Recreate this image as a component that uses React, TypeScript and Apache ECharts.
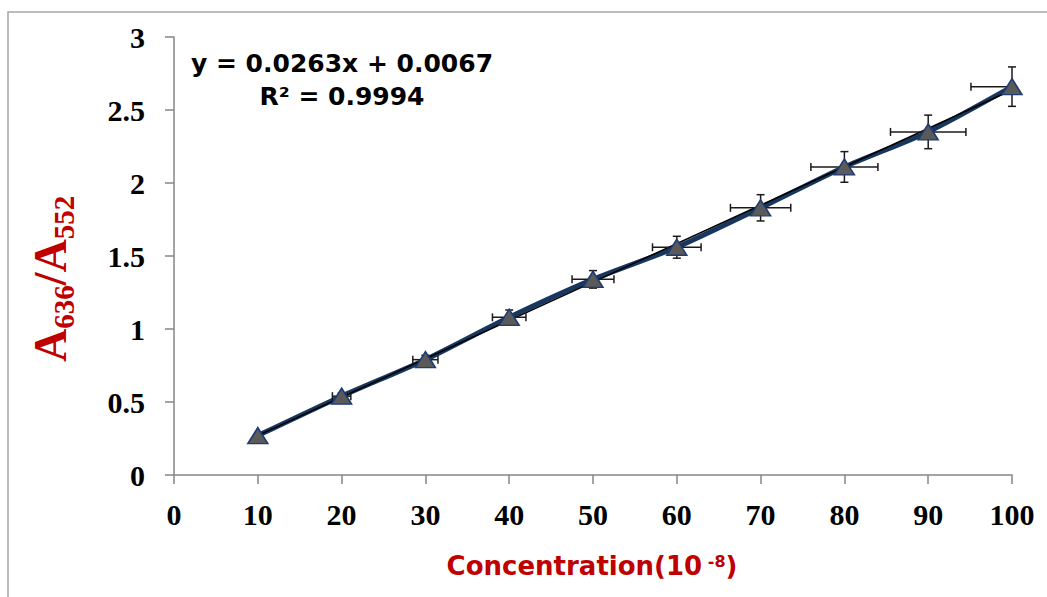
import React, { useEffect, useRef } from "react";
import * as echarts from "echarts";

// ---- data ----
const xValues = [10, 20, 30, 40, 50, 60, 70, 80, 90, 100];
const yValues = [0.27, 0.54, 0.79, 1.08, 1.34, 1.56, 1.83, 2.11, 2.35, 2.66];
const xErrors = [0, 1.1, 1.5, 2.0, 2.5, 2.9, 3.6, 4.0, 4.5, 4.9];
const yErrors = [0, 0.02, 0.03, 0.05, 0.06, 0.075, 0.09, 0.105, 0.115, 0.135];
const xAxisMin = 0;
const xAxisMax = 100;
const xAxisInterval = 10;
const yAxisMin = 0;
const yAxisMax = 3;
const yAxisInterval = 0.5;
const trendSlope = 0.0263;
const trendIntercept = 0.0067;
const equationText = "y = 0.0263x + 0.0067";
const r2Text = "R\u00B2 = 0.9994";
const xTitleMain = "Concentration(10";
const xTitleSup = "-8";
const xTitleEnd = ")";
const yTitleParts = ["A", "636", "/A", "552"];

const RED = "#C00000";
const AXIS = "#868686";
const SERIF = "Liberation Serif";
const SANS = "DejaVu Sans";

export default function App() {
  const ref = useRef<HTMLDivElement>(null);

  useEffect(() => {
    if (!ref.current) return;
    const chart = echarts.init(ref.current, null, { renderer: "svg" });

    const points = xValues.map((x, i) => [x, yValues[i]]);
    const errData = xValues.map((x, i) => [x, yValues[i], xErrors[i], yErrors[i]]);
    const tx0 = xValues[0];
    const tx1 = xValues[xValues.length - 1];
    const trend = [
      [tx0, trendSlope * tx0 + trendIntercept],
      [tx1, trendSlope * tx1 + trendIntercept],
    ];

    const axisLabel = {
      color: "#000",
      fontFamily: SERIF,
      fontWeight: "bold" as const,
      fontSize: 30,
    };

    // y-axis title: A636/A552 with subscripts, rotated
    const aSize = 46;
    const subSize = 29;
    const aW = 0.722 * aSize;
    const slashW = 0.278 * aSize;
    const subW = 0.5 * subSize * 3;
    const offsets = [0, aW, aW + subW, aW + subW + slashW + aW - aW];
    const yTitleChildren = yTitleParts.map((t, i) => {
      const isSub = i % 2 === 1;
      return {
        type: "text",
        x: offsets[i],
        y: isSub ? 64 : 50,
        style: {
          text: t,
          fontFamily: SERIF,
          fontWeight: "bold",
          fontSize: isSub ? subSize : aSize,
          fill: RED,
          align: "left",
          textAlign: "left",
          verticalAlign: "middle",
          textVerticalAlign: "middle",
        },
      };
    });
    // fix last offset: after "/A"
    yTitleChildren[3].x = aW + subW + slashW + aW;

    chart.setOption({
      animation: false,
      backgroundColor: "#fff",
      grid: { left: 174, right: 35, top: 37, bottom: 122, containLabel: false },
      xAxis: {
        type: "value",
        min: xAxisMin,
        max: xAxisMax,
        interval: xAxisInterval,
        axisLine: { show: true, lineStyle: { color: AXIS, width: 1.5 } },
        axisTick: { show: true, length: 9, lineStyle: { color: AXIS, width: 1.5 } },
        splitLine: { show: false },
        axisLabel: { ...axisLabel, margin: 24 },
      },
      yAxis: {
        type: "value",
        min: yAxisMin,
        max: yAxisMax,
        interval: yAxisInterval,
        axisLine: { show: true, lineStyle: { color: AXIS, width: 1.5 } },
        axisTick: { show: true, length: 9, lineStyle: { color: AXIS, width: 1.5 } },
        splitLine: { show: false },
        axisLabel: { ...axisLabel, margin: 29 },
      },
      series: [
        {
          type: "line",
          data: points,
          smooth: 0.25,
          showSymbol: false,
          lineStyle: { color: "#17375E", width: 5 },
          z: 2,
        },
        {
          type: "line",
          data: trend,
          showSymbol: false,
          lineStyle: { color: "#000", width: 1.5 },
          z: 3,
        },
        {
          type: "custom",
          data: errData,
          encode: { x: 0, y: 1 },
          clip: false,
          z: 4,
          renderItem: (params: any, api: any) => {
            const x = api.value(0);
            const y = api.value(1);
            const ex = api.value(2);
            const ey = api.value(3);
            const c = api.coord([x, y]);
            const style = { stroke: "#1a1a1a", lineWidth: 1.5, fill: "none" };
            const cap = 4;
            const children: any[] = [];
            if (ey > 0) {
              const top = api.coord([x, y + ey]);
              const bot = api.coord([x, y - ey]);
              children.push({ type: "line", shape: { x1: c[0], y1: top[1], x2: c[0], y2: bot[1] }, style });
              children.push({ type: "line", shape: { x1: c[0] - cap, y1: top[1], x2: c[0] + cap, y2: top[1] }, style });
              children.push({ type: "line", shape: { x1: c[0] - cap, y1: bot[1], x2: c[0] + cap, y2: bot[1] }, style });
            }
            if (ex > 0) {
              const rightVal = Math.min(x + ex, xAxisMax);
              const l = api.coord([x - ex, y]);
              const r = api.coord([rightVal, y]);
              children.push({ type: "line", shape: { x1: l[0], y1: c[1], x2: r[0], y2: c[1] }, style });
              children.push({ type: "line", shape: { x1: l[0], y1: c[1] - cap, x2: l[0], y2: c[1] + cap }, style });
              if (x + ex <= xAxisMax) {
                children.push({ type: "line", shape: { x1: r[0], y1: c[1] - cap, x2: r[0], y2: c[1] + cap }, style });
              }
            }
            return { type: "group", children };
          },
        },
        {
          type: "scatter",
          data: points,
          symbol: "triangle",
          symbolSize: [20, 16],
          itemStyle: { color: "#5A5A5A", borderColor: "#1F3B73", borderWidth: 1.5, opacity: 1 },
          z: 5,
        },
      ],
      graphic: [
        {
          type: "polyline",
          shape: { points: [[8, 600], [8, 12], [1050, 12]] },
          style: { stroke: "#A6A6A6", lineWidth: 1.5, fill: "none" },
          silent: true,
        },
        {
          type: "text",
          x: 342,
          y: 63,
          style: {
            text: equationText,
            fontFamily: SANS,
            fontWeight: "bold",
            fontSize: 25,
            fill: "#000",
            align: "center",
            textAlign: "center",
            verticalAlign: "middle",
            textVerticalAlign: "middle",
          },
        },
        {
          type: "text",
          x: 342,
          y: 96,
          style: {
            text: r2Text,
            fontFamily: SANS,
            fontWeight: "bold",
            fontSize: 25,
            fill: "#000",
            align: "center",
            textAlign: "center",
            verticalAlign: "middle",
            textVerticalAlign: "middle",
          },
        },
        {
          type: "text",
          x: 592,
          y: 566,
          style: {
            text: "{a|" + xTitleMain + "}{b| " + xTitleSup + "}{a|" + xTitleEnd + "}",
            align: "center",
            textAlign: "center",
            verticalAlign: "middle",
            textVerticalAlign: "middle",
            rich: {
              a: { fontFamily: SANS, fontWeight: "bold", fontSize: 26, fill: RED, color: RED },
              b: { fontFamily: SANS, fontWeight: "bold", fontSize: 16, fill: RED, color: RED, verticalAlign: "top" },
            },
          },
        },
        {
          type: "group",
          x: 0,
          y: 362,
          rotation: Math.PI / 2,
          children: yTitleChildren,
        },
      ],
    });

    return () => chart.dispose();
  }, []);

  return (
    <div
      ref={ref}
      style={{ position: "absolute", left: 0, top: 0, width: 1047, height: 597, background: "#fff" }}
    />
  );
}
